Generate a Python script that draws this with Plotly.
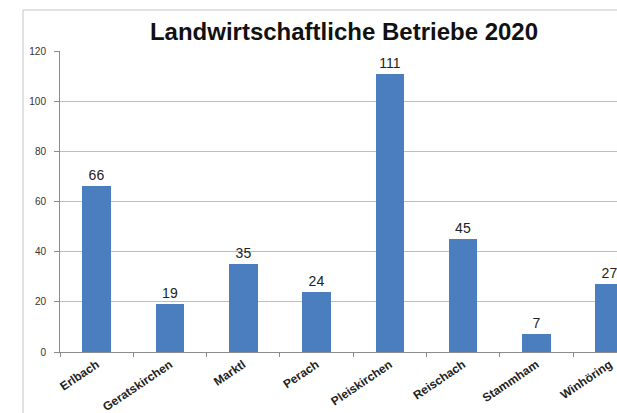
import plotly.graph_objects as go

# Farm counts per municipality, 2020
gemeinden = ["Erlbach", "Geratskirchen", "Marktl", "Perach", "Pleiskirchen",
             "Reischach", "Stammham", "Winhöring"]
betriebe = [66, 19, 35, 24, 111, 45, 7, 27]
y_ticks = [0, 20, 40, 60, 80, 100, 120]

FONT = "Liberation Sans, Arial, sans-serif"

fig = go.Figure(
    go.Bar(
        x=gemeinden,
        y=betriebe,
        width=0.39,
        marker=dict(color="#4a7ebf", line=dict(width=0)),
        text=[str(v) for v in betriebe],
        textposition="outside",
        textfont=dict(family=FONT, size=14, color="#222222"),
        cliponaxis=False,
    )
)

fig.update_layout(
    width=617,
    height=413,
    margin=dict(l=60, r=0, t=51, b=61),
    paper_bgcolor="white",
    plot_bgcolor="white",
    showlegend=False,
    title=dict(
        text="<b>Landwirtschaftliche Betriebe 2020</b>",
        x=344 / 617, xanchor="center",
        y=1 - 32 / 413, yanchor="middle",
        font=dict(family=FONT, size=24, color="#111111"),
    ),
    xaxis=dict(
        range=[-0.5, 7.1],
        showgrid=False,
        showline=True, linecolor="#8c8c8c", linewidth=1,
        ticks="outside", tickson="boundaries", ticklen=4, tickcolor="#8c8c8c",
        tickangle=-34,
        tickfont=dict(family=FONT, size=12, color="#222222", weight="bold"),
    ),
    yaxis=dict(
        range=[0, 120],
        tickvals=y_ticks,
        showgrid=True, gridcolor="#bdbdbd", gridwidth=1,
        showline=True, linecolor="#8c8c8c", linewidth=1,
        ticks="outside", ticklen=5, tickcolor="#8c8c8c",
        ticklabelstandoff=6,
        tickfont=dict(family=FONT, size=10, color="#333333"),
        zeroline=False,
    ),
    shapes=[
        dict(
            type="rect", xref="paper", yref="paper",
            x0=(23 - 60) / 557, x1=1.2,
            y0=-0.5, y1=(352 - 10) / 301,
            line=dict(color="#c4c4c4", width=1),
            fillcolor="rgba(0,0,0,0)", layer="below",
        )
    ],
    bargap=0.0,
)

fig.write_html("out.html")
